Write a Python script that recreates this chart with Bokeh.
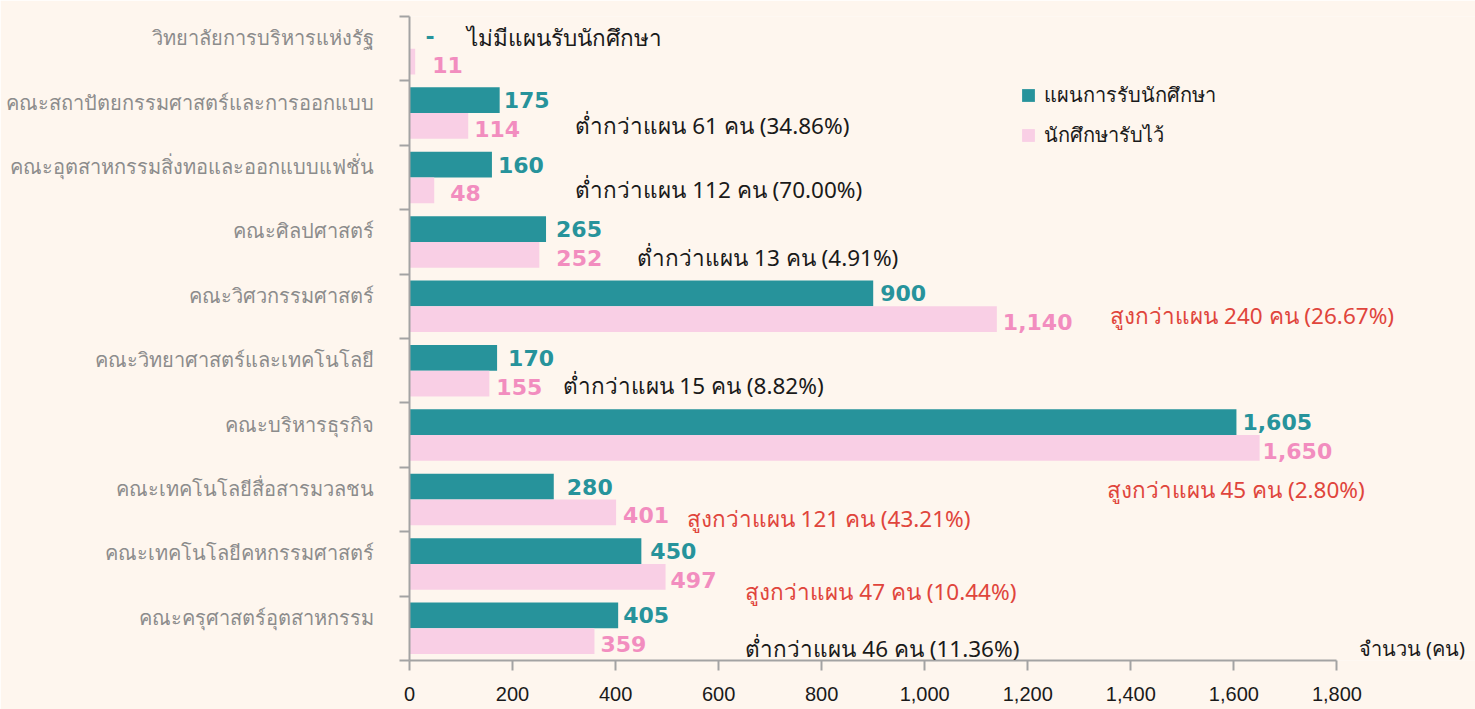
from bokeh.plotting import figure
from bokeh.models import (Range1d, FixedTicker, LinearAxis, CustomJSTickFormatter,
                          NumeralTickFormatter, ColumnDataSource, Label, Legend, LegendItem)
from bokeh.core.properties import value
from bokeh.embed import file_html
from bokeh.resources import INLINE

# ---------------- data ----------------
categories = [
    "วิทยาลัยการบริหารแห่งรัฐ",
    "คณะสถาปัตยกรรมศาสตร์และการออกแบบ",
    "คณะอุตสาหกรรมสิ่งทอและออกแบบแฟชั่น",
    "คณะศิลปศาสตร์",
    "คณะวิศวกรรมศาสตร์",
    "คณะวิทยาศาสตร์และเทคโนโลยี",
    "คณะบริหารธุรกิจ",
    "คณะเทคโนโลยีสื่อสารมวลชน",
    "คณะเทคโนโลยีคหกรรมศาสตร์",
    "คณะครุศาสตร์อุตสาหกรรม",
]
plan = [None, 175, 160, 265, 900, 170, 1605, 280, 450, 405]
admitted = [11, 114, 48, 252, 1140, 155, 1650, 401, 497, 359]
notes = [
    "ไม่มีแผนรับนักศึกษา",
    "ต่ำกว่าแผน 61 คน (34.86%)",
    "ต่ำกว่าแผน 112 คน (70.00%)",
    "ต่ำกว่าแผน 13 คน (4.91%)",
    "สูงกว่าแผน 240 คน (26.67%)",
    "ต่ำกว่าแผน 15 คน (8.82%)",
    "สูงกว่าแผน 45 คน (2.80%)",
    "สูงกว่าแผน 121 คน (43.21%)",
    "สูงกว่าแผน 47 คน (10.44%)",
    "ต่ำกว่าแผน 46 คน (11.36%)",
]
x_ticks = [0, 200, 400, 600, 800, 1000, 1200, 1400, 1600, 1800]
series_names = ["แผนการรับนักศึกษา", "นักศึกษารับไว้"]
x_unit_label = "จำนวน (คน)"

# ---------------- styles / placement ----------------
BG = "#fef6ee"
TEAL = "#27939b"
PINK_BAR = "#f9cfe5"
PINK_TXT = "#f28dbf"
RED = "#e0453c"
DARK = "#1a1a1a"
AXIS = "#a3a3a3"
CAT_TXT = "#8c8c8c"
THAI = "Noto Sans"
NUM = "DejaVu Sans"
TICKF = "Liberation Sans"

teal_dx = [16, 4, 6, 10, 7, 11, 6, 13, 9, 5]     # px gap after bar end for value labels
pink_dx = [17, 6, 16, 17, 6, 7, 3, 7, 5, 6]
note_x = [111, 322, 322, 442, 1360, 297, 1353, 538, 652, 652]   # where notes start (x units)
note_y = [0.33, 1.70, 2.68, 3.74, 4.64, 5.73, 7.34, 7.79, 8.93, 9.81]

n = len(categories)
p = figure(width=1475, height=709, output_backend="svg", toolbar_location=None,
           x_range=Range1d(0, 2069), y_range=Range1d(n, 0),
           x_axis_location=None, y_axis_location=None,
           min_border_left=409, min_border_right=0, min_border_top=16, min_border_bottom=49)
p.background_fill_color = BG
p.border_fill_color = BG
p.outline_line_color = None
p.xgrid.visible = False
p.ygrid.visible = False

rows = list(range(n))
plan_rows = [i for i in rows if plan[i] is not None]
src_plan = ColumnDataSource(dict(
    y=[i + 0.5 - 0.2 for i in plan_rows],
    v=[plan[i] for i in plan_rows],
    dx=[teal_dx[i] for i in plan_rows],
    lab=[f"{plan[i]:,}" for i in plan_rows]))
src_adm = ColumnDataSource(dict(
    y=[i + 0.5 + 0.2 for i in rows],
    v=admitted,
    dx=pink_dx,
    lab=[f"{a:,}" for a in admitted]))

r1 = p.hbar(y="y", right="v", left=0, height=0.4, source=src_plan,
            fill_color=TEAL, line_color=None)
r2 = p.hbar(y="y", right="v", left=0, height=0.4, source=src_adm,
            fill_color=PINK_BAR, line_color=None)

p.text(x="v", y="y", text="lab", source=src_plan, x_offset="dx", text_baseline="middle",
       text_color=TEAL, text_font=value(NUM), text_font_style="bold", text_font_size="22px")
p.text(x="v", y="y", text="lab", source=src_adm, x_offset="dx", y_offset=3,
       text_baseline="middle", text_color=PINK_TXT, text_font=value(NUM),
       text_font_style="bold", text_font_size="22px")
missing = [i for i in rows if plan[i] is None]
p.text(x=[0] * len(missing), y=[i + 0.5 - 0.2 for i in missing], text=["-"] * len(missing),
       x_offset=[teal_dx[i] for i in missing], text_baseline="middle", text_color=TEAL,
       text_font=value(NUM), text_font_style="bold", text_font_size="22px")

# comparison notes
for i in rows:
    colour = DARK if (plan[i] is None or admitted[i] < plan[i]) else RED
    p.add_layout(Label(x=note_x[i], y=note_y[i], text=notes[i], text_baseline="middle",
                       text_font=THAI, text_font_size="22.5px", text_color=colour))

# x axis
xaxis = LinearAxis(ticker=FixedTicker(ticks=x_ticks), bounds=(0, 1800),
                   formatter=NumeralTickFormatter(format="0,0"))
xaxis.axis_line_color = AXIS
xaxis.axis_line_width = 2
xaxis.major_tick_line_color = AXIS
xaxis.major_tick_line_width = 2
xaxis.major_tick_out = 10
xaxis.major_tick_in = 0
xaxis.minor_tick_line_color = None
xaxis.major_label_standoff = 16
xaxis.major_label_text_font = TICKF
xaxis.major_label_text_font_size = "20px"
xaxis.major_label_text_color = DARK
p.add_layout(xaxis, "below")

# y axis: category names, tick marks at row boundaries
yaxis = LinearAxis(ticker=FixedTicker(ticks=[i + 0.33 for i in rows],
                                      minor_ticks=list(range(n + 1))),
                   formatter=CustomJSTickFormatter(args=dict(names=categories),
                                                   code="return names[Math.floor(tick)] || ''"))
yaxis.axis_line_color = AXIS
yaxis.axis_line_width = 2
yaxis.major_tick_line_color = None
yaxis.major_tick_out = 0
yaxis.major_tick_in = 0
yaxis.minor_tick_line_color = AXIS
yaxis.minor_tick_line_width = 2
yaxis.minor_tick_out = 10
yaxis.minor_tick_in = 0
yaxis.major_label_standoff = 26
yaxis.major_label_text_font = THAI
yaxis.major_label_text_font_size = "20px"
yaxis.major_label_text_color = CAT_TXT
p.add_layout(yaxis, "left")

p.add_layout(Label(x=1800, y=n, text=x_unit_label, x_offset=22, y_offset=-1,
                   text_baseline="bottom", text_font=THAI, text_font_size="20px",
                   text_color=DARK))

legend = Legend(items=[LegendItem(label=series_names[0], renderers=[r1]),
                       LegendItem(label=series_names[1], renderers=[r2])],
                location=(611, 509))
legend.background_fill_alpha = 0
legend.border_line_color = None
legend.padding = 0
legend.margin = 0
legend.spacing = 8
legend.glyph_width = 16
legend.glyph_height = 16
legend.label_height = 20
legend.label_standoff = 8
legend.label_text_font = THAI
legend.label_text_font_size = "20px"
legend.label_text_color = DARK
p.add_layout(legend)

html = file_html(p, INLINE)
html = html.replace("<body>", f'<body style="background:{BG}">', 1)
open("out.html", "w").write(html)
